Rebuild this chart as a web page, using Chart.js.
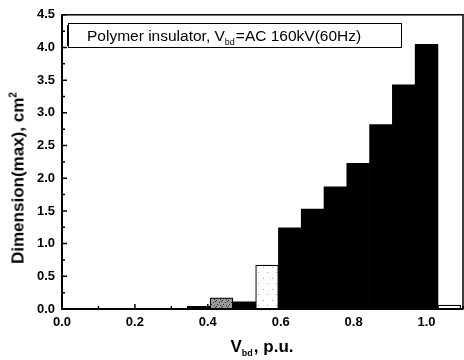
<!DOCTYPE html>
<html>
<head>
<meta charset="utf-8">
<script src="https://cdn.jsdelivr.net/npm/chart.js@4"></script>
<style>
  body { margin:0; background:#fff; }
  #wrap { position:relative; width:464px; height:360px; font-family:"Liberation Sans", Arial, sans-serif; }
  canvas { position:absolute; left:0; top:0; }
  .lbl { position:absolute; color:#000; white-space:nowrap; }
  #legend { left:68px; top:23px; width:334px; height:25px; border:1px solid #000; box-shadow:-3px 0 0 -2px #000; font-size:15.5px; line-height:23px; padding-left:18px; box-sizing:border-box; }
  #ytitle { left:18px; top:178px; transform:translate(-50%,-50%) rotate(-90deg); font-weight:bold; font-size:17px; }
  #xtitle { left:262px; top:347px; transform:translate(-50%,-50%); font-weight:bold; font-size:17px; }
  sub { font-size:9px; vertical-align:-4px; margin-right:1px; }
  sup { font-size:10px; vertical-align:7px; }
</style>
</head>
<body>
<div id="wrap">
  <canvas id="c" width="464" height="360"></canvas>
  <div class="lbl" id="legend">Polymer insulator, V<sub>bd</sub>=AC 160kV(60Hz)</div>
  <div class="lbl" id="ytitle">Dimension(max), cm<sup>2</sup></div>
  <div class="lbl" id="xtitle">V<sub>bd</sub>, p.u.</div>
</div>
<script>
// bin centres (p.u.) and max dimension (cm2)
const binCenters = [0.375, 0.4375, 0.5, 0.5625, 0.625, 0.6875, 0.75, 0.8125, 0.875, 0.9375, 1.0, 1.0625];
const dimension  = [0.04, 0.17, 0.11, 0.67, 1.24, 1.53, 1.87, 2.23, 2.82, 3.43, 4.05, 0.06];
const fillKind   = ['black', 'hatch', 'black', 'dots', 'black', 'black', 'black', 'black', 'black', 'black', 'black', 'white'];
const xTicks = [0.0, 0.2, 0.4, 0.6, 0.8, 1.0];
const yTicks = [0.0, 0.5, 1.0, 1.5, 2.0, 2.5, 3.0, 3.5, 4.0, 4.5];

function makePattern(kind) {
  const p = document.createElement('canvas');
  const g = p.getContext('2d');
  if (kind === 'hatch') {
    p.width = 6; p.height = 6;
    g.fillStyle = '#9a9a9a'; g.fillRect(0, 0, 6, 6);
    g.fillStyle = '#333';
    g.fillRect(0, 0, 1, 1); g.fillRect(3, 2, 1, 1); g.fillRect(1, 4, 1, 1); g.fillRect(4, 5, 1, 1); g.fillRect(5, 1, 1, 1);
  } else {
    p.width = 9; p.height = 11;
    g.fillStyle = '#fff'; g.fillRect(0, 0, 9, 11);
    g.fillStyle = '#aaa';
    g.fillRect(2, 3, 1, 1); g.fillRect(6, 8, 1, 1);
  }
  return document.getElementById('c').getContext('2d').createPattern(p, 'repeat');
}

const fills = { black: '#000', white: '#fff', hatch: makePattern('hatch'), dots: makePattern('dots') };

// frame + inward ticks
const frame = {
  id: 'frame',
  afterDraw(chart) {
    const { ctx, chartArea: a, scales } = chart;
    ctx.save();
    ctx.strokeStyle = '#000';
    ctx.lineWidth = 1.5;
    ctx.strokeRect(a.left, a.top, a.right - a.left, a.bottom - a.top);
    ctx.lineWidth = 2;
    ctx.beginPath();
    ctx.moveTo(a.left, a.top); ctx.lineTo(a.left, a.bottom); ctx.lineTo(a.right, a.bottom);
    ctx.stroke();
    ctx.lineWidth = 1.5;
    ctx.beginPath();
    yTicks.forEach(v => {
      const y = scales.y.getPixelForValue(v);
      ctx.moveTo(a.left, y); ctx.lineTo(a.left + 5, y);
      const ym = scales.y.getPixelForValue(v + 0.25);
      if (v < 4.5) { ctx.moveTo(a.left, ym); ctx.lineTo(a.left + 3, ym); }
    });
    xTicks.forEach(v => {
      const x = scales.x.getPixelForValue(v);
      ctx.moveTo(x, a.bottom); ctx.lineTo(x, a.bottom - 5);
      const xm = scales.x.getPixelForValue(v + 0.1);
      ctx.moveTo(xm, a.bottom); ctx.lineTo(xm, a.bottom - 3);
    });
    ctx.stroke();
    ctx.restore();
  }
};

const tickFont = { family: '"Liberation Sans", Arial, sans-serif', size: 13, weight: 'bold' };

new Chart(document.getElementById('c'), {
  type: 'bar',
  data: {
    datasets: [{
      data: binCenters.map((x, i) => ({ x, y: dimension[i] })),
      backgroundColor: fillKind.map(k => fills[k]),
      borderColor: '#000',
      borderWidth: fillKind.map(k => (k === 'black' ? 0 : 1.2)),
      barPercentage: 1,
      categoryPercentage: 1,
      grouped: false
    }]
  },
  options: {
    responsive: false,
    animation: false,
    layout: { padding: { top: 14, right: 1, left: 0, bottom: 0 } },
    plugins: { legend: { display: false }, tooltip: { enabled: false } },
    scales: {
      x: {
        type: 'linear',
        offset: false,
        min: 0, max: 1.1,
        afterFit: s => { s.height = 51; },
        grid: { display: false, drawTicks: false, offset: false },
        border: { display: false },
        ticks: {
          stepSize: 0.2, includeBounds: false, padding: 6,
          color: '#000', font: tickFont,
          callback: v => xTicks.includes(Math.round(v * 10) / 10) ? v.toFixed(1) : ''
        }
      },
      y: {
        min: 0, max: 4.5,
        afterFit: s => { s.width = 62; },
        grid: { display: false, drawTicks: false },
        border: { display: false },
        ticks: {
          stepSize: 0.5, padding: 7,
          color: '#000', font: tickFont,
          callback: v => v.toFixed(1)
        }
      }
    }
  },
  plugins: [frame]
});
</script>
</body>
</html>
